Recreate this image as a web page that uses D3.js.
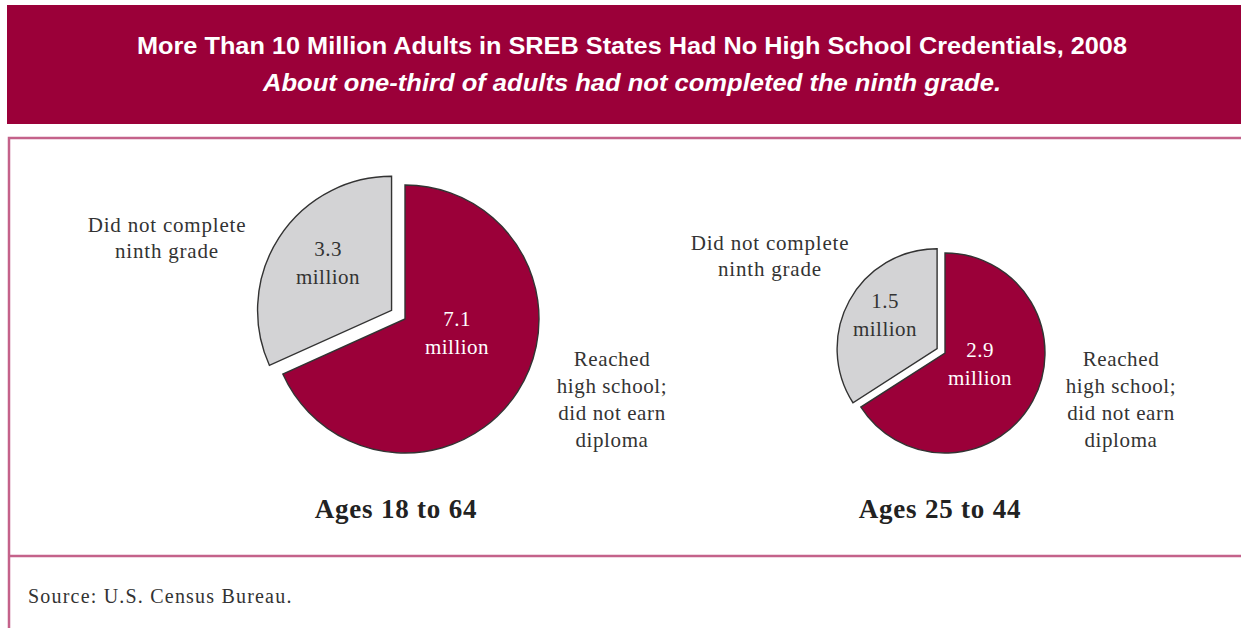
<!DOCTYPE html>
<html>
<head>
<meta charset="utf-8">
<script src="https://cdn.jsdelivr.net/npm/d3@7"></script>
<style>
  body { margin: 0; background: #fff; }
  svg { display: block; }
</style>
</head>
<body>
<svg width="1241" height="628"></svg>
<script>
// data
const groups = ["Ages 18 to 64", "Ages 25 to 44"];
const reachedHS = [7.1, 2.9];
const notNinth = [3.3, 1.5];
const sliceNames = ["Reached high school; did not earn diploma", "Did not complete ninth grade"];
const title = "More Than 10 Million Adults in SREB States Had No High School Credentials, 2008";
const subtitle = "About one-third of adults had not completed the ninth grade.";
const source = "Source: U.S. Census Bureau.";

const svg = d3.select("svg"),
	red = "#9b0039",
	grey = "#d3d3d5",
	frameCol = "#c4628a",
	serif = "'Liberation Serif', 'DejaVu Serif', serif",
	narrow = "'Liberation Sans Narrow', 'Liberation Sans', Arial, sans-serif";

// header band
svg.append("rect").attr("x", 7).attr("y", 5).attr("width", 1240).attr("height", 119).attr("fill", red);
svg.append("text").attr("x", 632).attr("y", 54)
	.attr("text-anchor", "middle").attr("fill", "#fff")
	.attr("font-family", narrow).attr("font-weight", "bold").attr("font-size", 24)
	.attr("textLength", 990).attr("lengthAdjust", "spacingAndGlyphs")
	.text(title);
svg.append("text").attr("x", 632).attr("y", 91)
	.attr("text-anchor", "middle").attr("fill", "#fff")
	.attr("font-family", narrow).attr("font-weight", "bold").attr("font-style", "italic").attr("font-size", 24)
	.attr("textLength", 738).attr("lengthAdjust", "spacingAndGlyphs")
	.text(subtitle);

// frame
let gframe = svg.append("g").attr("stroke", frameCol).attr("stroke-width", 2.5).attr("fill", "none");
gframe.append("path").attr("d", "M9,628 V138 H1241");
gframe.append("path").attr("d", "M9,556 H1241");

// pies
const pies = [
	{cx: 405, cy: 319, r: 134, explode: 16, lx: 167, ly: 232, rx: 612, mx: [328, 457], my: [256, 326]},
	{cx: 945, cy: 353, r: 100, explode: 9, lx: 770, ly: 250, rx: 1121, mx: [885, 980], my: [308, 357]}
];

const pie = d3.pie().sort(null).value(d => d.v);

pies.forEach((p, i) => {
	let data = [{v: reachedHS[i], name: sliceNames[0]}, {v: notNinth[i], name: sliceNames[1]}];
	let arcs = pie(data);
	let arc = d3.arc().innerRadius(0).outerRadius(p.r);
	let g = svg.append("g").attr("transform", `translate(${p.cx},${p.cy})`);

	g.selectAll("path").data(arcs).enter().append("path")
		.attr("d", arc)
		.attr("fill", (d, j) => j ? grey : red)
		.attr("stroke", "#333")
		.attr("stroke-width", 1.4)
		.attr("transform", (d, j) => {
			if (!j) return null;
			let a = (d.startAngle + d.endAngle) / 2;
			return `translate(${Math.sin(a) * p.explode},${-Math.cos(a) * p.explode})`;
		});

	// value labels
	let vals = [reachedHS[i], notNinth[i]];
	[1, 0].forEach(j => {
		let t = svg.append("text").attr("text-anchor", "middle")
			.attr("font-family", serif).attr("font-size", 21).attr("letter-spacing", 0.5)
			.attr("fill", j ? "#333" : "#fff");
		let x = p.mx[j ? 0 : 1], y = p.my[j ? 0 : 1];
		t.append("tspan").attr("x", x).attr("y", y).text(vals[j].toFixed(1));
		t.append("tspan").attr("x", x).attr("y", y + 28).text("million");
	});

	// outside labels
	let lt = svg.append("text").attr("text-anchor", "middle")
		.attr("font-family", serif).attr("font-size", 21).attr("letter-spacing", 0.8).attr("fill", "#333");
	["Did not complete", "ninth grade"].forEach((s, k) =>
		lt.append("tspan").attr("x", p.lx).attr("y", p.ly + k * 26).text(s));

	let rt = svg.append("text").attr("text-anchor", "middle")
		.attr("font-family", serif).attr("font-size", 21).attr("letter-spacing", 0.6).attr("fill", "#333");
	["Reached", "high school;", "did not earn", "diploma"].forEach((s, k) =>
		rt.append("tspan").attr("x", p.rx).attr("y", 366 + k * 27).text(s));

	svg.append("text").attr("x", i ? 940 : 396).attr("y", 518)
		.attr("text-anchor", "middle").attr("font-family", serif)
		.attr("font-weight", "bold").attr("font-size", 27).attr("letter-spacing", 0.8).attr("fill", "#222")
		.text(groups[i]);
});

svg.append("text").attr("x", 28).attr("y", 603)
	.attr("font-family", serif).attr("font-size", 20).attr("letter-spacing", 1.2).attr("fill", "#333")
	.text(source);
</script>
</body>
</html>
